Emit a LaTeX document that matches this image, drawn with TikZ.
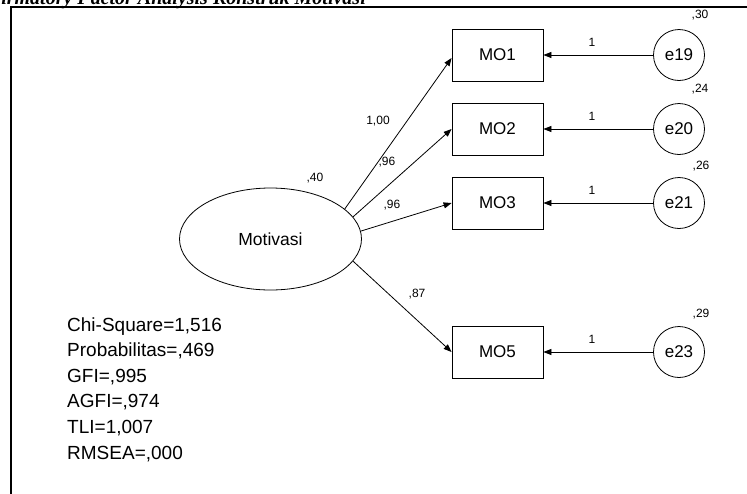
\documentclass[tikz,border=0pt]{standalone}
\usepackage{fontspec}
\setmainfont{Liberation Sans}
\newfontfamily\titlefont{Liberation Serif}
\usetikzlibrary{arrows.meta,shapes.geometric}
\begin{document}
\begin{tikzpicture}[x=1pt,y=-1pt,
  obs/.style={draw, line width=0.8pt, minimum width=91pt, minimum height=52pt, inner sep=0pt, font=\fontsize{17}{20}\selectfont},
  err/.style={draw, circle, minimum size=51pt, inner sep=0pt, line width=0.8pt, font=\fontsize{17}{20}\selectfont},
  lat/.style={draw, ellipse, minimum width=182pt, minimum height=102pt, inner sep=0pt, line width=0.8pt, font=\fontsize{17.5}{20}\selectfont},
  lbl/.style={font=\fontsize{12}{14}\selectfont, inner sep=0pt},
  fit/.style={font=\fontsize{19}{22}\selectfont, inner sep=0pt, anchor=base west},
  arr/.style={line width=0.8pt, -{Triangle[length=8pt,width=6pt]}},
]
\useasboundingbox (0,0) rectangle (747,493);
% title (cut off at the top edge, as in the reference)
\node[anchor=base west, inner sep=0pt, font=\titlefont\bfseries\itshape\fontsize{20}{24}\selectfont] (title) at (-40,4.5) {Confirmatory Factor Analysis Konstruk Motivasi};
% frame
\draw[line width=2pt] (11,500) -- (11,7) -- (760,7);

% latent
\node[lat] (mot) at (270.5,239) {Motivasi};
\node[lbl] (vmot) at (315,178) {,40};

% observed
\node[obs] (mo1) at (497.5,55) {MO1};
\node[obs] (mo2) at (497.5,129) {MO2};
\node[obs] (mo3) at (497.5,203) {MO3};
\node[obs] (mo5) at (497.5,352) {MO5};

% errors
\node[err] (e19) at (679,55) {e19};
\node[err] (e20) at (679,129) {e20};
\node[err] (e21) at (679,203) {e21};
\node[err] (e23) at (679,352) {e23};

\node[lbl] (v19) at (700,15) {,30};
\node[lbl] (v20) at (700,89) {,24};
\node[lbl] (v21) at (701,166) {,26};
\node[lbl] (v23) at (701,314) {,29};

% loadings
\draw[arr] (mot.22) -- ([yshift=-3pt]mo1.west);
\draw[arr] (mot.15.5) -- (mo2.west);
\draw[arr] (mot.5) -- (mo3.west);
\draw[arr] (mot.-15.5) -- (mo5.west);

\node[lbl] (l1) at (378,121) {1,00};
\node[lbl] (l2) at (387,162) {,96};
\node[lbl] (l3) at (392,205) {,96};
\node[lbl] (l5) at (417,294) {,87};

% error paths
\draw[arr] (e19.west) -- (mo1.east);
\draw[arr] (e20.west) -- (mo2.east);
\draw[arr] (e21.west) -- (mo3.east);
\draw[arr] (e23.west) -- (mo5.east);

\node[lbl] (w19) at (592,42) {1};
\node[lbl] (w20) at (592,116) {1};
\node[lbl] (w21) at (592,190) {1};
\node[lbl] (w23) at (592,339) {1};

% fit indices
\node[fit] (f1) at (67,331) {Chi-Square=1,516};
\node[fit] (f2) at (67,356.6) {Probabilitas=,469};
\node[fit] (f3) at (67,382.2) {GFI=,995};
\node[fit] (f4) at (67,407.8) {AGFI=,974};
\node[fit] (f5) at (67,433.4) {TLI=1,007};
\node[fit] (f6) at (67,459) {RMSEA=,000};
\end{tikzpicture}
\end{document}
